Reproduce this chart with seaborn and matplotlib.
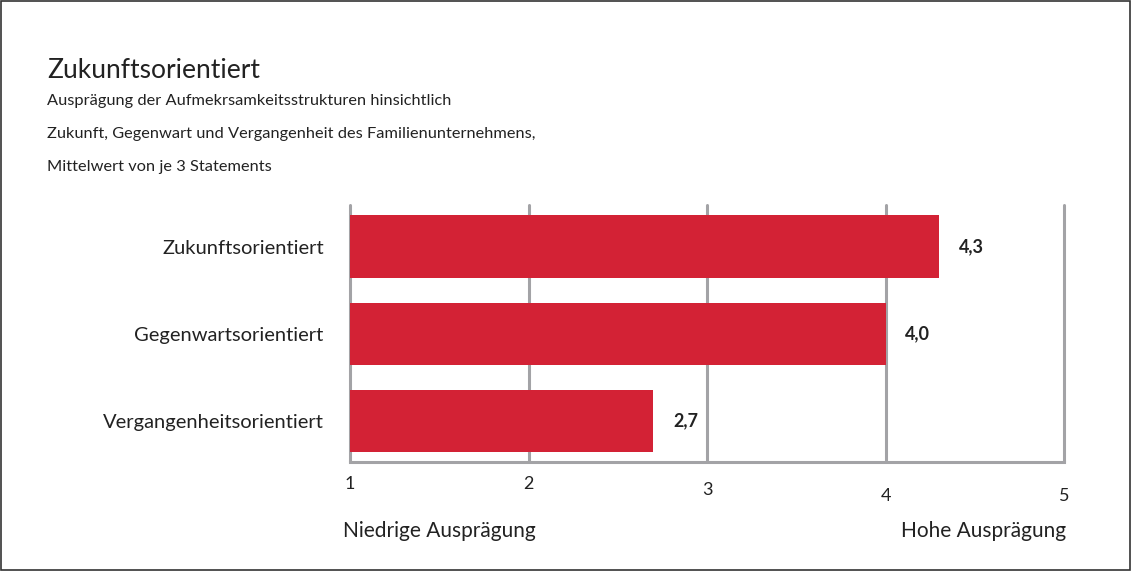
import matplotlib
matplotlib.use("Agg")
import matplotlib.pyplot as plt
import matplotlib.transforms as mtransforms
import pandas as pd
import seaborn as sns

# Data
categories = ["Zukunftsorientiert", "Gegenwartsorientiert", "Vergangenheitsorientiert"]
values = [4.3, 4.0, 2.7]
value_labels = ["4,3", "4,0", "2,7"]
x_ticks = [1, 2, 3, 4, 5]

title = "Zukunftsorientiert"
subtitle_lines = [
    "Ausprägung der Aufmekrsamkeitsstrukturen hinsichtlich",
    "Zukunft, Gegenwart und Vergangenheit des Familienunternehmens,",
    "Mittelwert von je 3 Statements",
]
low_label = "Niedrige Ausprägung"
high_label = "Hohe Ausprägung"

df = pd.DataFrame({"Kategorie": categories, "Wert": values})

sns.set_style("white")
plt.rcParams["font.family"] = ["Lato", "DejaVu Sans"]

red = "#d32235"
grey = "#a3a3a6"
text_col = "#222222"

fig = plt.figure(figsize=(11.31, 5.71), dpi=100)
ax = fig.add_axes([0.3095, 0.1909, 0.6313, 0.450])

sns.barplot(data=df, x="Wert", y="Kategorie", color=red, width=0.72,
            saturation=1, linewidth=0, ax=ax, zorder=3)

ax.set_xlim(1, 5)
ax.set_ylim(2.47, -0.48)
ax.set_xticks(x_ticks)
ax.set_xticklabels([str(t) for t in x_ticks])
ax.set_xlabel("")
ax.set_ylabel("")

# grid + baseline
ax.grid(axis="x", color=grey, linewidth=2.2, zorder=0)
ax.set_axisbelow(True)
for gl in ax.get_xgridlines():
    gl.set_clip_on(False)
for s in ["top", "right", "left"]:
    ax.spines[s].set_visible(False)
ax.spines["bottom"].set_color(grey)
ax.spines["bottom"].set_linewidth(2.2)

ax.tick_params(axis="y", length=0, pad=19, labelsize=14.5, labelcolor=text_col)
ax.tick_params(axis="x", length=3, width=2.2, color=grey, pad=7,
               labelsize=13, labelcolor=text_col)

# old-style numeral look: shift some tick labels down a bit
offsets = [0, 0, 6, 12, 12]
for lbl, dy in zip(ax.get_xticklabels(), offsets):
    lbl.set_transform(lbl.get_transform() +
                      mtransforms.ScaledTranslation(0, -dy / 100, fig.dpi_scale_trans))

# value labels
for i, (v, s) in enumerate(zip(values, value_labels)):
    ax.annotate(s, xy=(v, i), xytext=(14, 0), textcoords="offset points",
                ha="left", va="center", fontsize=13, fontweight="bold",
                color=text_col)

# titles
fig.text(0.0416, 1 - 70 / 571, title, fontsize=19, color=text_col, va="center")
for k, line in enumerate(subtitle_lines):
    fig.text(0.0416, 1 - (101 + 33 * k) / 571, line, fontsize=11.8,
             color=text_col, va="center")

fig.text(343 / 1131, 1 - 531 / 571, low_label, fontsize=15, color=text_col,
         va="center", ha="left")
fig.text(1066 / 1131, 1 - 531 / 571, high_label, fontsize=15, color=text_col,
         va="center", ha="right")

# frame around the whole figure
fig.patches.append(plt.Rectangle((0.0005, 0.001), 0.999, 0.998,
                                 transform=fig.transFigure, fill=False,
                                 edgecolor="#333333", linewidth=1.2))

fig.savefig("out.png", dpi=100)
